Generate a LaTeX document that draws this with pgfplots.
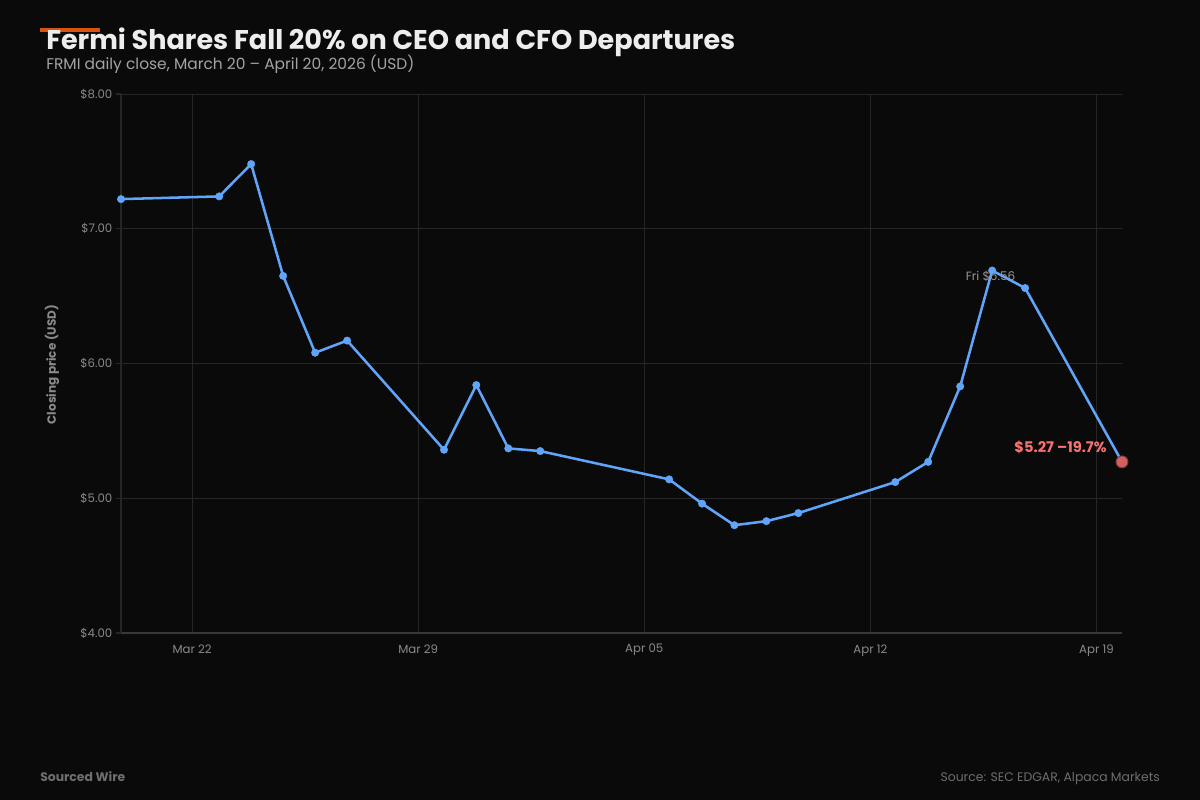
\documentclass[border=0pt]{standalone}
\usepackage{pgfplots}
\pgfplotsset{compat=1.18}
\usepackage{fontspec}
\setmainfont{Poppins}
\definecolor{bg}{HTML}{0A0A0A}
\definecolor{linec}{HTML}{60A5FA}
\definecolor{redc}{HTML}{F87171}
\definecolor{gridc}{HTML}{262626}
\definecolor{tickc}{HTML}{8A8A8A}
\definecolor{titlec}{HTML}{EDEDED}
\definecolor{subc}{HTML}{A3A3A3}
\definecolor{footc}{HTML}{6E6E6E}
\definecolor{barc}{HTML}{D9540F}

% day 0 = Mar 22
\pgfplotstableread{
day price
-2.20 7.22
0.84 7.24
1.83 7.48
2.82 6.65
3.81 6.08
4.80 6.17
7.80 5.36
8.80 5.84
9.79 5.37
10.78 5.35
14.77 5.14
15.79 4.96
16.79 4.80
17.78 4.83
18.77 4.89
21.77 5.12
22.79 5.27
23.78 5.83
24.77 6.69
25.79 6.56
28.79 5.27
}\prices

\begin{document}
\begin{tikzpicture}
\fill[bg] (0pt,0pt) rectangle (900pt,600pt);
\useasboundingbox (0pt,0pt) rectangle (900pt,600pt);

% header
\draw[barc, line width=2.5pt] (30pt,577.5pt) -- (75pt,577.5pt);
\node[anchor=base west, inner sep=0pt, text=titlec, font=\fontsize{20.3}{24}\selectfont\bfseries]
  at (34.5pt,563pt) {Fermi Shares Fall 20\% on CEO and CFO Departures};
\node[anchor=base west, inner sep=0pt, text=subc, font=\fontsize{11.6}{14}\selectfont]
  at (34.5pt,547.5pt) {FRMI daily close, March 20 – April 20, 2026 (USD)};

% y label
\node[rotate=90, text=tickc, font=\fontsize{9}{11}\selectfont\bfseries]
  at (39pt,326.6pt) {Closing price (USD)};

% footer
\node[anchor=base west, inner sep=0pt, text=footc, font=\fontsize{9.3}{11}\selectfont\bfseries]
  at (30pt,13.5pt) {Sourced Wire};
\node[anchor=base east, inner sep=0pt, text=footc, font=\fontsize{9.3}{11}\selectfont]
  at (870pt,13.5pt) {Source: SEC EDGAR, Alpaca Markets};

\begin{axis}[
    at={(90.75pt,125.25pt)}, anchor=south west,
    scale only axis,
    width=750.75pt, height=404.25pt,
    xmin=-2.2, xmax=28.79,
    ymin=4, ymax=8,
    axis x line*=bottom,
    axis y line*=left,
    x axis line style={draw=gray!45!black, line width=0.8pt, -},
    y axis line style={draw=gridc, line width=0.8pt, -},
    xtick={0,7,14,21,28},
    xticklabels={Mar 22,Mar 29,Apr 05,Apr 12,Apr 19},
    ytick={4,5,6,7,8},
    yticklabels={\$4.00,\$5.00,\$6.00,\$7.00,\$8.00},
    xtick style={draw=none},
    ytick style={draw=gridc, line width=0.8pt},
    major tick length=4pt,
    tick align=outside,
    tick label style={text=tickc, font=\fontsize{8.8}{10}\selectfont},
    yticklabel style={xshift=1pt},
    xticklabel style={yshift=-1pt},
    grid=major,
    major grid style={draw=gridc, line width=0.7pt},
    clip=false,
]
\addplot[linec, line width=1.9pt, mark=*, mark size=2.8pt,
  mark options={solid, fill=linec, draw=linec, line width=0.3pt}] table[x=day, y=price] {\prices};
\addplot[only marks, mark=*, mark size=4.4pt,
  mark options={solid, fill=redc!85!black, draw=redc!55!black, line width=0.8pt}]
  coordinates {(28.79,5.27)};
\node[text=tickc!90!white, font=\fontsize{9}{11}\selectfont, inner sep=0pt]
  at (axis cs:24.72,6.645) {Fri \$6.56};
\node[anchor=east, text=redc, font=\fontsize{11}{12}\selectfont\bfseries, inner sep=0pt]
  at (axis cs:28.32,5.38) {\$5.27 –19.7\%};
\end{axis}
\end{tikzpicture}
\end{document}
